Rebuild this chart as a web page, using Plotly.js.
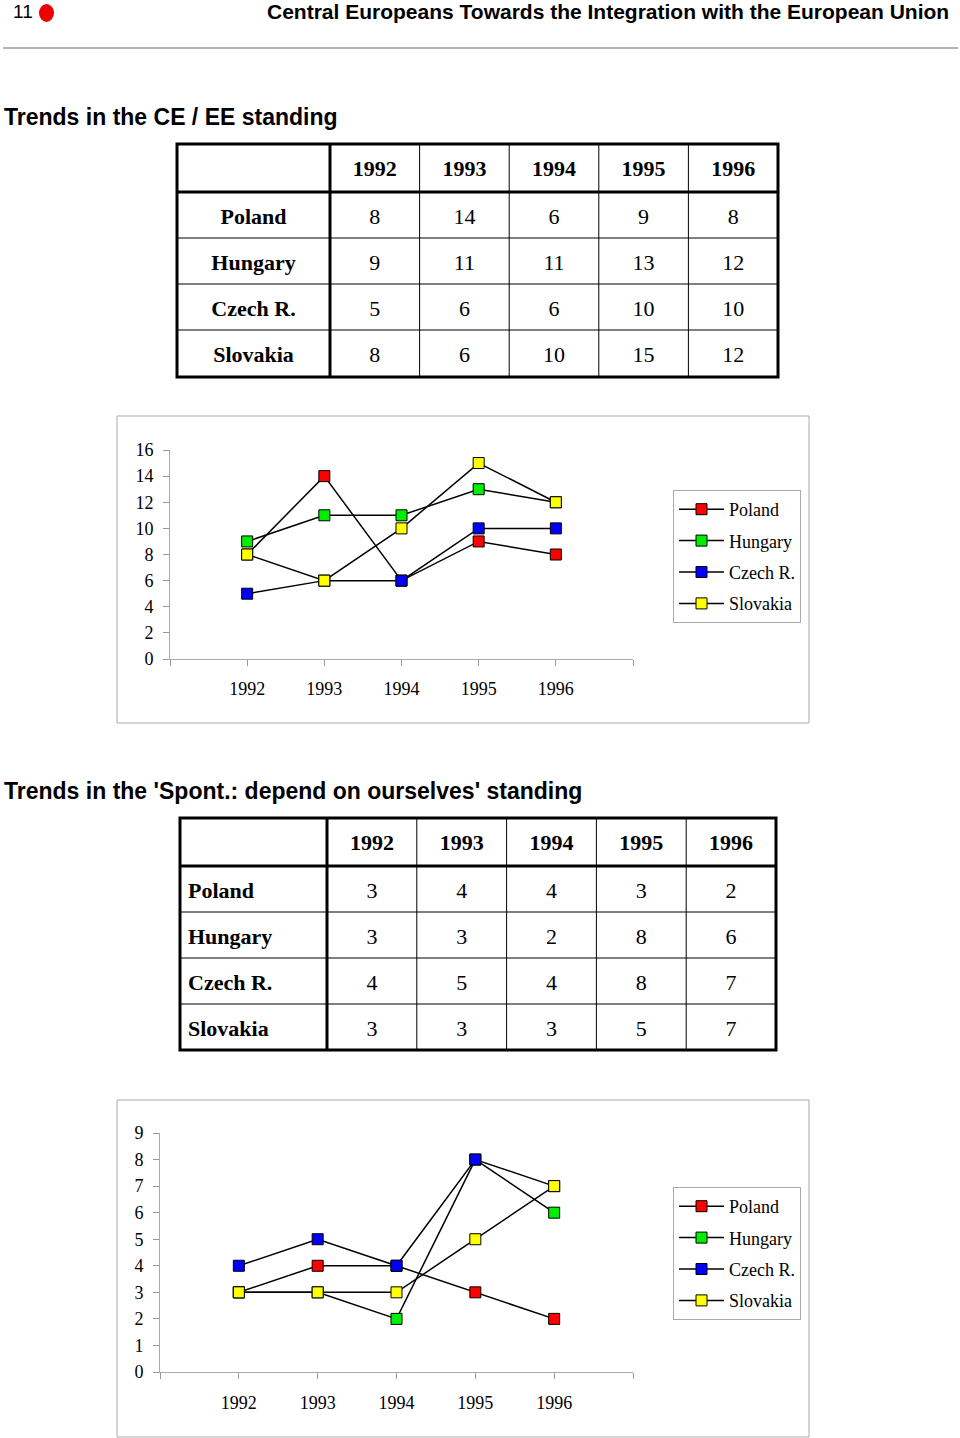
<!DOCTYPE html>
<html><head><meta charset="utf-8">
<script src="https://cdn.plot.ly/plotly-3.0.1.min.js"></script>
<style>html,body{margin:0;padding:0;background:#fff;} #chart{width:960px;height:1438px;}</style>
</head><body><div id="chart"></div>
<script>
// ---- data ----
const years = [1992, 1993, 1994, 1995, 1996];
const countries = ['Poland', 'Hungary', 'Czech R.', 'Slovakia'];
// Trends in the CE / EE standing
const cePoland = [8, 14, 6, 9, 8];
const ceHungary = [9, 11, 11, 13, 12];
const ceCzech = [5, 6, 6, 10, 10];
const ceSlovakia = [8, 6, 10, 15, 12];
// Trends in the 'Spont.: depend on ourselves' standing
const spPoland = [3, 4, 4, 3, 2];
const spHungary = [3, 3, 2, 8, 6];
const spCzech = [4, 5, 4, 8, 7];
const spSlovakia = [3, 3, 3, 5, 7];

const colors = ['#ff0000', '#00ee00', '#0000ff', '#ffff00'];

// ---- helpers ----
const W = 960, H = 1438;
const px = x => x / W, py = y => 1 - y / H;
const serif = 'Liberation Serif, Times New Roman, serif';
const sans = 'Liberation Sans, Arial, sans-serif';
const TEXT_SHIFT = 7; // push table text down to centre it in the cells

function colWidths(box) {
  return [box.firstW].concat(years.map(() => (box.x1 - box.x0 - box.firstW) / years.length));
}
function makeTable(series, box, align0) {
  const colW = colWidths(box);
  const values = [countries.slice()];
  years.forEach((y, j) => values.push(series.map(s => String(s[j]))));
  const noLine = {color: 'rgba(0,0,0,0)', width: 0};
  return {
    type: 'table',
    domain: {x: [px(box.x0), px(box.x1)], y: [py(box.y1 + TEXT_SHIFT), py(box.y0 + TEXT_SHIFT)]},
    columnwidth: colW,
    header: {
      values: [''].concat(years.map(String)),
      height: box.headH, align: 'center', line: noLine,
      fill: {color: 'rgba(0,0,0,0)'},
      font: {family: serif, size: 22, color: '#000', weight: 700}
    },
    cells: {
      values: values,
      height: box.rowH, align: [align0, 'center', 'center', 'center', 'center', 'center'],
      line: noLine,
      fill: {color: 'rgba(0,0,0,0)'},
      font: {family: serif, size: 22, color: '#000', weight: [700, 400, 400, 400, 400, 400]}
    }
  };
}
function tableShapes(box) {
  const thin = {type: 'line', xref: 'paper', yref: 'paper', line: {color: '#000', width: 1}};
  const thick = {type: 'line', xref: 'paper', yref: 'paper', line: {color: '#000', width: 3}};
  const out = [];
  const colW = colWidths(box);
  let x = box.x0;
  colW.forEach((w, i) => {
    x += w;
    if (i > 0 && i < colW.length - 1) out.push(Object.assign({}, thin, {x0: px(x), x1: px(x), y0: py(box.y0), y1: py(box.y1)}));
  });
  for (let r = 1; r < countries.length; r++) {
    const y = box.y0 + box.headH + r * box.rowH;
    out.push(Object.assign({}, thin, {x0: px(box.x0), x1: px(box.x1), y0: py(y), y1: py(y)}));
  }
  out.push({type: 'rect', xref: 'paper', yref: 'paper', x0: px(box.x0), x1: px(box.x1), y0: py(box.y0), y1: py(box.y1), line: {color: '#000', width: 3}});
  out.push(Object.assign({}, thick, {x0: px(box.x0), x1: px(box.x1), y0: py(box.y0 + box.headH), y1: py(box.y0 + box.headH)}));
  out.push(Object.assign({}, thick, {x0: px(box.x0 + box.firstW), x1: px(box.x0 + box.firstW), y0: py(box.y0), y1: py(box.y1)}));
  return out;
}
function makeLines(series, xa, ya, legend, grp) {
  return series.map((s, i) => ({
    type: 'scatter', mode: 'lines+markers', name: countries[i],
    x: years, y: s, xaxis: xa, yaxis: ya, legend: legend, legendgroup: grp + i,
    line: {color: '#000', width: 1.5},
    marker: {symbol: 'square', size: 11, color: colors[i], line: {color: '#000', width: 1}},
    hoverinfo: 'skip'
  }));
}

const xTickVals = [years[0] - 1].concat(years, [years[years.length - 1] + 1]);
const xTickText = [''].concat(years.map(String), ['']);
const xRange = [years[0] - 1, years[years.length - 1] + 1];
const tickFont = {family: serif, size: 18, color: '#000'};

function xAxis(domain, anchor, standoff) {
  return {domain: domain, anchor: anchor, range: xRange, tickmode: 'array', tickvals: xTickVals, ticktext: xTickText,
    ticks: 'outside', ticklen: 6, tickcolor: '#999', showline: true, linecolor: '#aaa', linewidth: 1,
    showgrid: false, zeroline: false, tickfont: tickFont, ticklabelstandoff: standoff, fixedrange: true};
}
function xAxisIn(over, anchor) {
  return {overlaying: over, anchor: anchor, range: xRange, tickmode: 'array', tickvals: xTickVals,
    ticks: 'inside', ticklen: 6, tickcolor: '#999', showticklabels: false, showline: false, showgrid: false, zeroline: false, fixedrange: true};
}
function yAxis(domain, anchor, range, dtick, standoff) {
  return {domain: domain, anchor: anchor, range: range, tickmode: 'linear', tick0: 0, dtick: dtick,
    ticks: 'outside', ticklen: 6, tickcolor: '#999', showline: true, linecolor: '#aaa', linewidth: 1,
    showgrid: false, zeroline: false, tickfont: tickFont, ticklabelstandoff: standoff, fixedrange: true};
}
function yAxisIn(over, anchor, range, dtick) {
  return {overlaying: over, anchor: anchor, range: range, tickmode: 'linear', tick0: 0, dtick: dtick,
    ticks: 'inside', ticklen: 6, tickcolor: '#999', showticklabels: false, showline: false, showgrid: false, zeroline: false, fixedrange: true};
}
function legendBox(x, y) {
  return {x: px(x), y: py(y), xanchor: 'left', yanchor: 'top', bgcolor: '#fff', bordercolor: '#aaa', borderwidth: 1,
    font: {family: serif, size: 18, color: '#000'}, tracegroupgap: 5, traceorder: 'grouped', itemwidth: 45};
}

const table1Box = {x0: 177, x1: 778, y0: 144, y1: 377, firstW: 153, headH: 48, rowH: 46};
const table2Box = {x0: 180, x1: 776, y0: 818, y1: 1050, firstW: 147, headH: 48, rowH: 46};

const data = [
  makeTable([cePoland, ceHungary, ceCzech, ceSlovakia], table1Box, 'center'),
  makeTable([spPoland, spHungary, spCzech, spSlovakia], table2Box, 'left')
].concat(
  makeLines([cePoland, ceHungary, ceCzech, ceSlovakia], 'x', 'y', 'legend', 'a'),
  makeLines([spPoland, spHungary, spCzech, spSlovakia], 'x2', 'y2', 'legend2', 'b')
);

const layout = {
  width: W, height: H, margin: {l: 0, r: 0, t: 0, b: 0},
  paper_bgcolor: '#fff', plot_bgcolor: 'rgba(0,0,0,0)', showlegend: true, hovermode: false,
  xaxis: xAxis([px(170), px(633)], 'y', 7),
  yaxis: yAxis([py(659), py(450)], 'x', [0, 16], 2, 6),
  xaxis3: xAxisIn('x', 'y'),
  yaxis3: yAxisIn('y', 'x', [0, 16], 2),
  xaxis2: xAxis([px(160), px(633)], 'y2', 8),
  yaxis2: yAxis([py(1372), py(1133)], 'x2', [0, 9], 1, 6),
  xaxis4: xAxisIn('x2', 'y2'),
  yaxis4: yAxisIn('y2', 'x2', [0, 9], 1),
  legend: legendBox(673, 490),
  legend2: legendBox(673, 1187),
  shapes: [
    {type: 'line', xref: 'paper', yref: 'paper', x0: px(3), x1: px(958), y0: py(48), y1: py(48), line: {color: '#999', width: 1.5}},
    {type: 'circle', xref: 'paper', yref: 'paper', x0: px(39), x1: px(54), y0: py(4), y1: py(22), fillcolor: '#ee0000', line: {color: '#ee0000', width: 0}},
    {type: 'rect', xref: 'paper', yref: 'paper', x0: px(117), x1: px(809), y0: py(416), y1: py(723), line: {color: '#aaa', width: 1}, layer: 'below'},
    {type: 'rect', xref: 'paper', yref: 'paper', x0: px(117), x1: px(809), y0: py(1100), y1: py(1437), line: {color: '#aaa', width: 1}, layer: 'below'}
  ].concat(tableShapes(table1Box), tableShapes(table2Box)),
  annotations: [
    {text: '11', xref: 'paper', yref: 'paper', x: px(11), y: py(12), xanchor: 'left', yanchor: 'middle', showarrow: false,
      font: {family: sans, size: 19, color: '#000'}},
    {text: 'Central Europeans Towards the Integration with the European Union', xref: 'paper', yref: 'paper', x: px(951), y: py(12),
      xanchor: 'right', yanchor: 'middle', showarrow: false, font: {family: sans, size: 21, color: '#000', weight: 700}},
    {text: 'Trends in the CE / EE standing', xref: 'paper', yref: 'paper', x: px(2), y: py(117),
      xanchor: 'left', yanchor: 'middle', showarrow: false, font: {family: sans, size: 23, color: '#000', weight: 700}},
    {text: "Trends in the 'Spont.: depend on ourselves' standing", xref: 'paper', yref: 'paper', x: px(2), y: py(791),
      xanchor: 'left', yanchor: 'middle', showarrow: false, font: {family: sans, size: 23, color: '#000', weight: 700}}
  ]
};

Plotly.newPlot('chart', data, layout, {displayModeBar: false, staticPlot: true});
</script>
</body></html>
